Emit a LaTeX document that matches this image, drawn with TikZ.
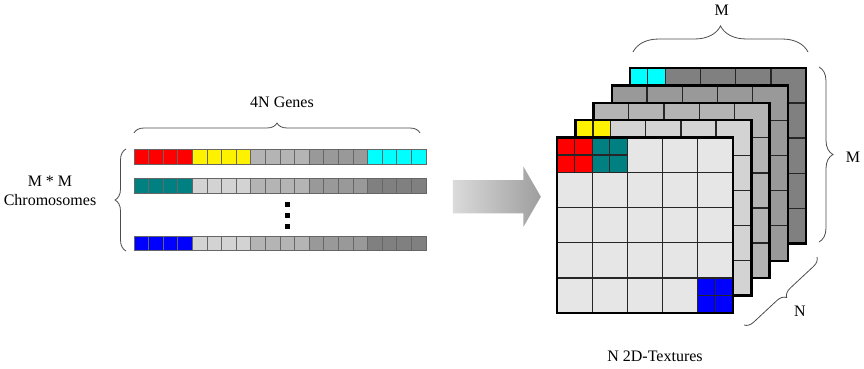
\documentclass[tikz,border=0pt]{standalone}
\usepackage{fontspec}
\setmainfont{Liberation Serif}
\usetikzlibrary{decorations.pathreplacing,shapes.arrows}

\definecolor{tealc}{HTML}{008080}
\definecolor{cyanc}{HTML}{00FFFF}
\definecolor{gA}{HTML}{E6E6E6}
\definecolor{gB}{HTML}{D3D3D3}
\definecolor{gC}{HTML}{B4B4B4}
\definecolor{gD}{HTML}{999999}
\definecolor{gE}{HTML}{808080}

\tikzstyle{gene} = [draw=black!60, line width=0.7pt]
\tikzstyle{cell} = [draw=black!85, line width=1.3pt]
\tikzstyle{frame} = [draw=black, line width=2.4pt]
\tikzstyle{br} = [decorate, draw=black!70, line width=0.8pt]
\tikzstyle{lbl} = [font=\fontsize{16}{19}\selectfont, inner sep=0pt, align=center]

% one chromosome: y position, then the colour of each group of 4 genes
\newcommand{\genestrip}[6]{%
  \foreach \col [count=\g from 0] in {#2,#3,#4,#5,#6}
    \foreach \i in {0,...,3}
      \draw[gene, fill=\col] ({134+(4*\g+\i)*14.6},#1) rectangle +(14.6,14.7);
}
% a texel split in 2x2: x, y, colour
\newcommand{\subcell}[3]{%
  \foreach \a in {0,1}
    \foreach \b in {0,1}
      \draw[cell, fill=#3] ({#1+\a*17.6},{#2+\b*17.55}) rectangle +(17.6,17.55);
}
% one 5x5 texture: x, y, fill, extra texels
\newcommand{\texlayer}[4]{%
  \fill[#3] (#1,#2) rectangle +(176,175.5);
  \foreach \i in {1,...,4} {
    \draw[cell] ({#1+\i*35.2},#2) -- +(0,175.5);
    \draw[cell] (#1,{#2+\i*35.1}) -- +(176,0);
  }
  #4
  \draw[frame] (#1,#2) rectangle +(176,175.5);
}

\begin{document}
\begin{tikzpicture}[x=1pt,y=-1pt]
\useasboundingbox (0,0) rectangle (864,369);

% chromosomes
\genestrip{149.3}{red}{yellow}{gC}{gD}{cyanc}
\genestrip{178.3}{tealc}{gB}{gC}{gD}{gE}
\genestrip{236}{blue}{gB}{gC}{gD}{gE}
\foreach \y in {204,215,226}
  \fill (284.5,\y-2.5) rectangle +(5,5);

\node[lbl] (genes) at (282,102) {4N Genes};
\node[lbl] (chromos) at (50,190.5) {M * M\\Chromosomes};
\draw[br, decoration={brace, amplitude=10pt}] (134,133) -- (420,133);
\draw[br, decoration={brace, amplitude=11pt}] (126,251) -- (126,149);

% arrow
\node[single arrow, draw=none, left color=gA!95!black, right color=gD!95,
  inner xsep=0pt, inner ysep=16.5pt, minimum height=88pt,
  single arrow head extend=13.5pt, single arrow tip angle=120] (arrow) at (492,196.7) {};

% textures, back to front
\texlayer{630.2}{67.9}{gE}{\subcell{630.2}{67.9}{cyanc}}
\texlayer{611.9}{85.3}{gD}{}
\texlayer{593.6}{102.7}{gC}{}
\texlayer{575.3}{120.1}{gB}{\subcell{575.3}{120.1}{yellow}}
\texlayer{557}{137.5}{gA}{\subcell{557}{137.5}{red}
  \subcell{592.2}{137.5}{tealc}
  \subcell{697.8}{277.9}{blue}}

\node[lbl] (topM) at (721.7,10) {M};
\node[lbl] (sideM) at (853,157) {M};
\node[lbl] (depthN) at (800,311.7) {N};
\node[lbl] (textures) at (655,356) {N 2D-Textures};
\draw[br, decoration={brace, amplitude=26pt}] (633,52) -- (808,52);
\draw[br, decoration={brace, amplitude=14pt}] (819,67) -- (819,242);
\draw[br, decoration={brace, amplitude=9pt}] (817,257) -- (744,325);

\end{tikzpicture}
\end{document}
